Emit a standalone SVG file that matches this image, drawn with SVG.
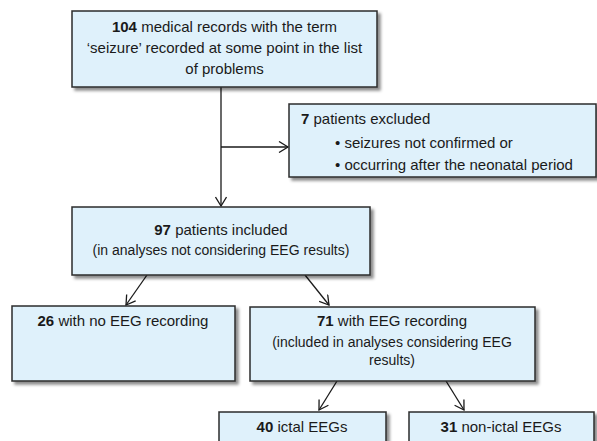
<svg xmlns="http://www.w3.org/2000/svg" width="597" height="441" viewBox="0 0 597 441">
<style>
.box{fill:#dff1fb;stroke:#2b2b2b;stroke-width:1.5;filter:url(#sh)}
.t{font-family:"Liberation Sans",Arial,sans-serif;font-size:15px;fill:#1a1a1a}
.s{font-size:14px}
.c{text-anchor:middle}
.b{font-weight:bold}
.ln{stroke:#1a1a1a;stroke-width:1.3;fill:none;marker-end:url(#ah)}
</style>
<defs>
<filter id="sh" x="-5%" y="-5%" width="115%" height="125%">
<feDropShadow dx="3" dy="3" stdDeviation="1.5" flood-color="#000" flood-opacity="0.45"/>
</filter>
<marker id="ah" viewBox="-10 -6 12 12" refX="0" refY="0" markerWidth="12" markerHeight="12" markerUnits="userSpaceOnUse" orient="auto">
<path d="M-9,-5.5 L0,0 L-9,5.5" fill="none" stroke="#1a1a1a" stroke-width="1.3"/>
</marker>
</defs>
<g id="connectors">
<line class="ln" x1="221" y1="87" x2="221" y2="206"/>
<line class="ln" x1="221" y1="147" x2="288" y2="147"/>
<line class="ln" x1="147" y1="275" x2="126" y2="305"/>
<line class="ln" x1="305" y1="275" x2="329" y2="305"/>
<line class="ln" x1="337" y1="381" x2="319" y2="410"/>
<line class="ln" x1="446" y1="381" x2="464" y2="410"/>
</g>
<g id="n1">
<rect class="box" x="72" y="11" width="305" height="76"/>
<text class="t c" x="224.5" y="32"><tspan class="b">104</tspan> medical records with the term</text>
<text class="t c" x="224.5" y="53">‘seizure’ recorded at some point in the list</text>
<text class="t c" x="224.5" y="74">of problems</text>
</g>
<g id="n2">
<rect class="box" x="289" y="104" width="307" height="73"/>
<text class="t" x="301" y="124"><tspan class="b">7</tspan> patients excluded</text>
<text class="t" x="335" y="147.5">• seizures not confirmed or</text>
<text class="t" x="335" y="170">• occurring after the neonatal period</text>
</g>
<g id="n3">
<rect class="box" x="72" y="207" width="298" height="68"/>
<text class="t c" x="221" y="235"><tspan class="b">97</tspan> patients included</text>
<text class="t s c" x="221" y="255">(in analyses not considering EEG results)</text>
</g>
<g id="n4">
<rect class="box" x="12" y="306" width="223" height="75"/>
<text class="t c" x="123" y="326"><tspan class="b">26</tspan> with no EEG recording</text>
</g>
<g id="n5">
<rect class="box" x="250" y="307" width="285" height="74"/>
<text class="t c" x="392" y="326"><tspan class="b">71</tspan> with EEG recording</text>
<text class="t s c" x="392" y="346.5">(included in analyses considering EEG</text>
<text class="t s c" x="392" y="364.5">results)</text>
</g>
<g id="n6">
<rect class="box" x="219" y="412" width="167" height="40"/>
<text class="t c" x="302" y="432"><tspan class="b">40</tspan> ictal EEGs</text>
</g>
<g id="n7">
<rect class="box" x="409" y="412" width="185" height="40"/>
<text class="t c" x="501" y="432"><tspan class="b">31</tspan> non-ictal EEGs</text>
</g>
</svg>
